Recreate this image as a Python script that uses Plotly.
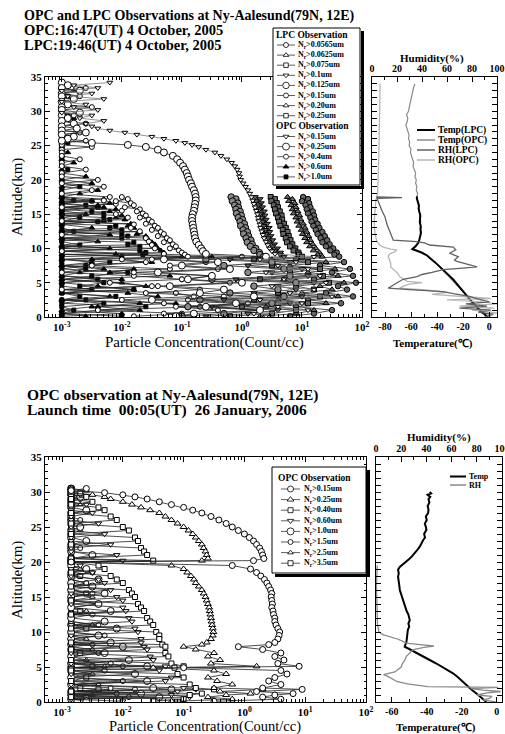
import plotly.graph_objects as go

W, H = 505, 734
FONT = "Liberation Serif"

# ---------------- TOP FIGURE (4 October 2005) ----------------
# LPC sampling altitudes (km) and log10 concentration (count/cc) per channel
lpc_alt = [17.5, 17.2, 16.9, 16.6, 16.3, 16.0, 15.7, 15.4, 15.1, 14.8,
           14.5, 14.2, 13.9, 13.6, 13.3, 13.0, 12.7, 12.4, 12.1, 11.8,
           11.5, 11.2, 10.9, 10.6, 10.3, 10.0, 9.7, 9.4, 9.1, 8.8,
           8.4, 8.0, 7.5, 7.0, 6.5, 6.0, 5.5, 5.0, 4.5, 4.0,
           3.5, 3.0, 2.5, 2.0, 1.5, 1.0, 0.5, 0.1]
lpc_n0565 = [1.02, 1.10, 1.00, 1.12, 1.06, 1.14, 1.08, 1.18, 1.10, 1.20,
             1.14, 1.22, 1.16, 1.26, 1.19, 1.29, 1.23, 1.34, 1.26, 1.38,
             1.31, 1.42, 1.34, 1.46, 1.40, 1.52, 1.47, 1.58, 1.54, 1.62,
             0.9, 1.7, 1.3, 1.8, 1.5, 1.85, 1.2, 1.9, 1.6, 1.75,
             1.4, 1.85, 1.1, 1.65, 0.9, 1.5, 1.2, 0.8]
lpc_n0625 = [0.76, 0.84, 0.78, 0.88, 0.82, 0.90, 0.84, 0.93, 0.86, 0.96,
             0.90, 0.98, 0.92, 1.02, 0.95, 1.05, 0.99, 1.08, 1.01, 1.11,
             1.05, 1.14, 1.08, 1.18, 1.13, 1.23, 1.19, 1.29, 1.26, 1.34,
             0.5, 1.4, 0.8, 1.55, 1.1, 1.6, 0.7, 1.7, 1.3, 1.5,
             1.0, 1.6, 0.6, 1.4, 0.4, 1.2, 0.9, 0.3]
lpc_n075 = [0.48, 0.55, 0.49, 0.58, 0.53, 0.60, 0.55, 0.63, 0.57, 0.66,
            0.60, 0.67, 0.62, 0.70, 0.64, 0.73, 0.68, 0.76, 0.69, 0.78,
            0.73, 0.81, 0.75, 0.84, 0.80, 0.89, 0.86, 0.94, 0.95, 1.00,
            0.2, 1.1, 0.5, 1.3, 0.8, 1.35, 0.3, 1.45, 0.9, 1.2,
            0.6, 1.3, 0.2, 1.1, 0.0, 0.9, 0.5, -0.2]
lpc_n1 = [0.22, 0.30, 0.24, 0.32, 0.28, 0.34, 0.29, 0.37, 0.31, 0.38,
          0.33, 0.40, 0.35, 0.42, 0.36, 0.45, 0.39, 0.46, 0.40, 0.48,
          0.44, 0.51, 0.45, 0.54, 0.51, 0.59, 0.55, 0.64, 0.64, 0.70,
          -0.2, 0.8, 0.1, 1.0, 0.5, 1.1, -0.1, 1.2, 0.6, 0.9,
          0.2, 1.0, -0.3, 0.8, -0.5, 0.6, 0.1, -0.6]
lpc_n125 = [-0.18, -0.10, -0.16, -0.07, -0.12, -0.06, -0.10, -0.03, -0.09, -0.01,
            -0.06, 0.01, -0.03, 0.04, -0.02, 0.06, 0.02, 0.09, 0.03, 0.11,
            0.07, 0.15, 0.09, 0.17, 0.14, 0.23, 0.20, 0.29, 0.30, 0.36,
            -0.6, 0.5, -0.3, 0.7, 0.1, 0.8, -0.5, 0.9, 0.2, 0.6,
            -0.2, 0.7, -0.7, 0.5, -0.9, 0.3, -0.3, -1.0]
lpc_n15 = [-2.0, -1.9, -2.1, -1.85, -1.8, -1.95, -1.7, -1.75, -1.65, -1.6,
           -1.7, -1.55, -1.5, -1.6, -1.45, -1.4, -1.5, -1.35, -1.3, -1.4,
           -1.25, -1.2, -1.3, -1.15, -1.1, -1.2, -1.05, -1.0, -0.95, -0.9,
           -1.5, -0.6, -1.2, -0.4, -1.8, -0.5, -1.0, -0.2, -1.4, -0.7,
           -1.6, -0.3, -0.9, 0.1, -1.1, -0.4, -1.3, -0.8]
lpc_n20 = [-3.0, -2.3, -3.0, -2.2, -2.4, -3.0, -2.1, -2.2, -3.0, -2.0,
           -2.1, -1.95, -3.0, -1.85, -1.9, -1.8, -3.0, -1.7, -1.75, -1.6,
           -3.0, -1.55, -1.5, -1.45, -3.0, -1.4, -1.35, -1.3, -3.0, -0.5,
           -2.5, -1.5, -3.0, -1.8, -2.2, -1.2, -3.0, -2.0, -1.6, -3.0,
           -1.9, -1.4, -3.0, -1.1, -2.4, -1.7, -3.0, -2.6]
lpc_n25 = [-3.0, -3.0, -2.5, -3.0, -2.6, -2.4, -3.0, -2.5, -2.3, -3.0,
           -2.3, -2.2, -2.4, -3.0, -2.1, -2.2, -2.0, -3.0, -2.0, -1.9,
           -2.0, -3.0, -1.8, -1.9, -1.7, -3.0, -1.7, -1.6, -1.65, -3.0,
           -3.0, -2.2, -2.6, -3.0, -1.9, -2.5, -3.0, -2.3, -2.7, -1.8,
           -3.0, -2.1, -2.6, -3.0, -1.6, -2.4, -3.0, -2.0]

# OPC sampling altitudes (km) and log10 concentration per channel
opc_top_alt = [34.2, 33.8, 33.4, 33.0, 32.6, 32.2, 31.8, 31.4, 31.0, 30.6,
               30.2, 29.8, 29.4, 29.0, 28.6, 28.2, 27.8,
               27.5, 27.2, 26.9, 26.6, 26.3, 26.0, 25.7, 25.4, 25.1, 24.8,
               24.4, 24.0,
               23.5, 23.0, 22.5, 22.0, 21.5, 21.0, 20.5, 20.0, 19.5, 19.0,
               18.5, 18.0, 17.5, 17.0, 16.5, 16.0, 15.5, 15.0, 14.5, 14.0,
               13.5, 13.0, 12.5, 12.0, 11.5, 11.0, 10.5, 10.0,
               9.6, 9.2, 8.8, 8.4, 8.0,
               7.5, 7.0, 6.5, 6.0, 5.5, 5.0, 4.5, 4.0, 3.5, 3.0, 2.5, 2.0, 1.5, 1.0, 0.5,
               0.1]
opc_t015 = [-2.2, -2.8, -2.4, -3.0, -2.5, -2.9, -2.3, -3.0, -2.6, -2.8,
            -2.4, -3.0, -2.5, -2.7, -2.3, -2.6, -2.5,
            -2.4, -2.2, -1.95, -1.75, -1.5, -1.3, -1.1, -0.95, -0.83, -0.72,
            -0.6, -0.45,
            -0.35, -0.25, -0.17, -0.12, -0.08, -0.05, -0.04, -0.02, 0.02, 0.06,
            0.10, 0.13, 0.16, 0.18, 0.20, 0.22, 0.24, 0.26, 0.27, 0.28,
            0.30, 0.31, 0.33, 0.35, 0.37, 0.40, 0.43, 0.46,
            0.50, 0.55, 1.2, 0.3, 0.9,
            0.6, 1.1, 0.4, 1.3, 0.7, 1.4, 0.5, 1.2, 0.8, 1.5, 0.3, 1.0, 0.6, 1.1, 0.2,
            0.4]
opc_t025 = [-3.0, -2.9, -3.0, -2.7, -3.0, -3.0, -2.8, -3.0, -2.9, -3.0,
            -3.0, -2.7, -3.0, -2.9, -3.0, -2.8, -3.0,
            -2.75, -3.0, -2.6, -3.0, -2.8, -2.9, -3.0, -2.5, -1.9, -1.6,
            -1.4, -1.3,
            -1.15, -1.08, -1.03, -0.98, -0.95, -0.92, -0.90, -0.88, -0.85, -0.83,
            -0.80, -0.78, -0.77, -0.77, -0.78, -0.79, -0.80, -0.82, -0.83, -0.83,
            -0.82, -0.81, -0.80, -0.79, -0.78, -0.76, -0.72, -0.68,
            -0.65, -0.60, 0.4, -1.3, -0.4,
            -1.0, -0.2, -1.4, -0.5, -0.9, 0.0, -1.2, -0.3, -0.7, 0.2, -1.5, -0.1, -0.6, 0.3, -0.8,
            -1.1]
opc_t04 = [-3.0, -3.0, -2.6, -3.0, -3.0, -2.7, -3.0, -3.0, -3.0, -2.5,
           -3.0, -3.0, -2.8, -3.0, -3.0, -2.6, -3.0,
           -3.0, -3.0, -2.7, -3.0, -3.0, -3.0, -2.6, -3.0, -3.0, -2.5,
           -3.0, -3.0,
           -3.0, -2.7, -3.0, -3.0, -2.6, -3.0, -3.0, -2.4, -3.0, -2.3,
           -2.5, -3.0, -2.2, -2.3, -2.1, -3.0, -2.0, -2.1, -1.9, -3.0,
           -1.8, -1.85, -1.7, -3.0, -1.6, -1.55, -1.5, -1.45,
           -3.0, -1.3, 0.0, -2.0, -1.6,
           -2.5, -1.2, -3.0, -1.8, -1.0, -2.2, -1.5, -3.0, -1.1, -0.8, -2.0, -1.3, -0.7, -2.4, -1.0,
           -1.8]
opc_t06 = [-3.0, -3.0, -3.0, -2.8, -3.0, -3.0, -3.0, -3.0, -2.9, -3.0,
           -3.0, -3.0, -3.0, -2.8, -3.0, -3.0, -3.0,
           -3.0, -3.0, -3.0, -3.0, -2.8, -3.0, -3.0, -3.0, -3.0, -3.0,
           -3.0, -2.9,
           -3.0, -3.0, -2.8, -3.0, -3.0, -3.0, -2.6, -3.0, -2.5, -3.0,
           -2.4, -2.7, -3.0, -2.5, -3.0, -2.3, -3.0, -2.6, -3.0, -2.3,
           -3.0, -2.5, -3.0, -2.2, -3.0, -2.4, -3.0, -2.2,
           -3.0, -2.1, -1.0, -3.0, -2.5,
           -3.0, -2.3, -2.7, -3.0, -2.0, -3.0, -2.4, -1.8, -3.0, -2.2, -3.0, -1.7, -2.5, -3.0, -2.0,
           -3.0]
opc_t10 = [-3.0, -3.0, -3.0, -3.0, -3.0, -2.9, -3.0, -3.0, -3.0, -3.0,
           -3.0, -3.0, -2.9, -3.0, -3.0, -3.0, -3.0,
           -3.0, -3.0, -3.0, -3.0, -3.0, -3.0, -3.0, -2.9, -3.0, -3.0,
           -3.0, -3.0,
           -3.0, -3.0, -3.0, -3.0, -2.9, -3.0, -3.0, -3.0, -3.0, -2.7,
           -3.0, -3.0, -3.0, -2.8, -3.0, -3.0, -3.0, -3.0, -2.7, -3.0,
           -3.0, -3.0, -2.8, -3.0, -3.0, -3.0, -2.7, -3.0,
           -3.0, -3.0, -2.0, -3.0, -3.0,
           -3.0, -2.6, -3.0, -3.0, -2.4, -3.0, -3.0, -2.5, -3.0, -2.7, -3.0, -2.3, -3.0, -2.8, -3.0,
           -3.0]

# Temperature (deg C) / humidity (%) profiles, top figure
t_lpc_alt = [0.0, 0.4, 0.8, 1.2, 1.6, 2.0, 2.5, 3.0, 3.5, 4.0, 4.5, 5.0, 5.5, 6.0, 6.5, 7.0,
             7.5, 8.0, 8.5, 9.0, 9.4, 9.9, 10.3, 10.8, 11.3, 11.8, 12.3, 12.8, 13.3, 13.8,
             14.3, 14.8, 15.3, 15.8, 16.3, 16.8, 17.3, 17.6]
t_lpc = [-1.5, -3.5, -6.5, -8.5, -10.8, -12.5, -14.6, -16.8, -19.0, -21.0, -23.0, -25.3,
         -27.8, -30.5, -33.2, -35.8, -38.8, -41.7, -44.9, -47.9, -52.0, -59.0, -56.5, -54.5,
         -53.6, -53.0, -52.4, -52.8, -52.6, -53.3, -53.0, -52.9, -53.6, -54.2, -54.0, -55.0,
         -55.6, -55.4]
t_opc_alt = [0.0, 0.5, 1.0, 1.5, 2.0, 2.5, 3.0, 3.5, 4.0, 4.5, 5.0, 5.5, 6.0, 6.5, 7.0, 7.5,
             8.0, 8.5, 9.0, 9.5, 10.0, 10.5, 11.0, 11.5, 12.0, 12.5, 13.0, 13.5, 14.0, 14.5,
             15.0, 15.5, 16.0, 16.5, 17.0, 17.5, 18.0, 18.5, 19.0, 19.5, 20.0, 20.5, 21.0,
             21.5, 22.0, 22.5, 23.0, 23.5, 24.0, 24.5, 25.0, 25.5, 26.0, 26.5, 27.0, 27.5,
             28.0, 28.5, 29.0, 29.5, 30.0, 30.5, 31.0, 31.5, 32.0, 32.5, 33.0, 33.5, 34.0]
t_opc = [-0.5, -3.5, -7.0, -9.5, -12.0, -14.0, -16.5, -19.0, -21.5, -23.5,
         -26.0, -28.5, -31.0, -33.5, -36.0, -39.0, -42.0, -45.0, -48.0, -53.0,
         -58.5, -56.0, -54.0, -53.5, -52.5, -53.0, -52.0, -53.0, -52.5, -53.5,
         -53.0, -54.0, -53.5, -54.5, -55.0, -55.5, -55.0, -56.0, -55.5, -56.5,
         -56.0, -57.0, -56.5, -57.5, -58.5, -58.0, -59.0, -59.5, -60.5, -60.0,
         -61.5, -61.0, -62.0, -61.5, -62.5, -63.0, -64.0, -63.0, -62.5, -63.5,
         -62.0, -61.5, -61.0, -60.5, -60.0, -59.5, -59.0, -58.0, -57.0]
rh_lpc_alt = [17.5, 17.4, 17.3, 16.8, 16.1, 15.5, 14.6, 13.5, 12.4, 11.6, 11.2, 11.0, 10.8,
              10.5, 10.2, 9.8, 9.3, 8.8, 8.3, 8.1, 7.6, 7.3, 7.1, 6.9, 6.5, 6.2, 5.9, 5.5,
              5.0, 4.6, 4.2, 4.0, 3.7, 3.4, 3.0, 2.6, 2.2, 1.9, 1.6, 1.3, 1.0, 0.7, 0.4, 0.0]
rh_lpc = [3.5, 24, 4.0, 5.0, 6.4, 8.0, 10.4, 12.0, 14.4, 16.0, 17.0, 35.7, 42, 46, 65, 67,
          62, 69, 66, 68, 78, 84, 70, 57, 48, 40, 36, 25, 20, 16, 13, 30, 57, 65, 78, 85,
          94, 75, 92, 70, 95, 85, 97, 90]
rh_opc_alt = [34.0, 32.0, 30.0, 28.0, 26.0, 24.0, 22.0, 20.0, 18.0, 17.0, 16.0, 15.0, 14.0,
              13.0, 12.0, 11.0, 10.5, 10.2, 9.9, 9.8, 9.5, 9.2, 8.8, 8.3, 7.8, 7.3, 6.8,
              6.3, 5.9, 5.5, 5.2, 5.0, 4.8, 4.5, 4.2, 3.9, 3.6, 3.3, 3.0, 2.7, 2.5, 2.2,
              1.9, 1.6, 1.3, 1.0, 0.6, 0.3, 0.0]
rh_opc = [6.5, 6.4, 6.2, 6.0, 5.8, 5.5, 5.2, 4.8, 4.5, 3.0, 2.5, 2.0, 1.8, 2.0, 2.5, 4.0,
          6.0, 9.0, 15, 20, 18, 14, 13, 14, 15, 15, 18, 21, 22, 26, 28, 40, 30, 25, 22,
          45, 60, 48, 75, 95, 60, 88, 100, 70, 98, 80, 100, 92, 95]

# ---------------- BOTTOM FIGURE (26 January 2006) ----------------
opc_bot_alt = [30.5, 30.2, 29.9, 29.6, 29.3, 29.0,
               28.6, 28.2, 27.8, 27.4, 27.0,
               26.5, 26.0, 25.5, 25.0, 24.5, 24.0, 23.5, 23.0, 22.5, 22.0, 21.5, 21.0, 20.5,
               20.2, 20.0,
               19.5, 19.0, 18.5, 18.0, 17.5, 17.0, 16.5, 16.0, 15.5, 15.0, 14.5, 14.0, 13.5,
               13.0, 12.5, 12.0, 11.5, 11.0, 10.5, 10.0, 9.5, 9.0, 8.5,
               8.2, 7.9,
               7.5, 7.0, 6.5, 6.0, 5.5,
               5.1, 4.9,
               4.5, 4.0, 3.5, 3.0, 2.5, 2.0,
               1.8, 1.5, 1.2, 1.0, 0.7, 0.4, 0.1]
opc_b015 = [-2.6, -2.85, -2.3, -2.0, -1.8, -1.6,
            -1.4, -1.2, -1.0, -0.85, -0.7,
            -0.55, -0.42, -0.3, -0.2, -0.1, 0.0, 0.08, 0.15, 0.2, 0.25, 0.28, 0.3, 0.32,
            0.15, -2.85,
            -0.2, 0.1, 0.2, 0.27, 0.33, 0.37, 0.4, 0.43, 0.45, 0.44, 0.45, 0.46, 0.45,
            0.47, 0.48, 0.5, 0.5, 0.52, 0.55, 0.58, 0.57, 0.55, 0.5,
            0.4, -0.1,
            0.3, 0.6, 0.5, 0.65, 0.55,
            0.9, -1.0,
            0.6, 0.7, 0.5, 0.4, 0.6, 0.3,
            0.95, 0.2, 0.8, 0.5, 0.3, 0.6, -0.5]
opc_b025 = [-2.85, -2.6, -2.85, -2.5, -2.3, -2.2,
            -2.0, -1.85, -1.7, -1.55, -1.4,
            -1.3, -1.2, -1.1, -1.0, -0.92, -0.85, -0.8, -0.75, -0.7, -0.67, -0.64, -0.62, -0.6,
            -0.7, -2.85,
            -1.2, -1.0, -0.94, -0.88, -0.83, -0.8, -0.75, -0.7, -0.67, -0.64, -0.62, -0.6, -0.58,
            -0.57, -0.56, -0.55, -0.54, -0.53, -0.52, -0.51, -0.52, -0.55, -0.62,
            -0.7, -1.0,
            -0.8, -0.5, -0.6, -0.4, -0.55,
            0.2, -1.5,
            -0.5, -0.3, -0.6, -0.45, -0.2, -0.5,
            0.3, -0.4, 0.1, -0.3, -0.6, -0.2, -1.2]
opc_b040 = [-2.85, -2.85, -2.7, -2.85, -2.6, -2.85,
            -2.5, -2.85, -2.4, -2.3, -2.85,
            -2.2, -2.1, -2.85, -2.0, -1.9, -2.85, -1.8, -1.75, -2.85, -1.7, -1.65, -1.6, -2.85,
            -1.5, -2.85,
            -2.4, -2.3, -2.85, -2.2, -2.1, -2.0, -2.85, -1.9, -1.85, -1.8, -2.85, -1.75, -1.7,
            -1.65, -2.85, -1.6, -1.55, -1.5, -2.85, -1.45, -1.4, -1.4, -2.85,
            -1.35, -1.3,
            -2.85, -1.3, -1.25, -2.85, -1.2,
            -1.0, -1.15,
            -2.85, -1.1, -1.0, -2.85, -0.9, -0.8,
            -0.5, -2.85, -0.7, -0.9, -2.85, -1.0, -1.5]
opc_b060 = [-2.85, -2.85, -2.85, -2.7, -2.85, -2.85,
            -2.85, -2.6, -2.85, -2.85, -2.5,
            -2.85, -2.85, -2.4, -2.85, -2.85, -2.3, -2.85, -2.85, -2.2, -2.85, -2.85, -2.1, -2.85,
            -2.0, -2.85,
            -2.7, -2.85, -2.5, -2.85, -2.4, -2.3, -2.85, -2.2, -2.85, -2.1, -2.0, -2.85, -2.0,
            -1.95, -2.85, -1.9, -1.85, -2.85, -1.8, -1.75, -2.85, -1.7, -1.7,
            -2.85, -1.65,
            -1.6, -2.85, -1.55, -1.5, -2.85,
            -1.3, -2.85,
            -1.4, -2.85, -1.2, -1.3, -2.85, -1.0,
            -0.8, -1.1, -2.85, -1.2, -0.9, -2.85, -2.0]
opc_b10 = [-2.85, -2.85, -2.85, -2.85, -2.7, -2.85,
           -2.85, -2.85, -2.85, -2.6, -2.85,
           -2.85, -2.85, -2.85, -2.7, -2.85, -2.85, -2.85, -2.6, -2.85, -2.85, -2.85, -2.5, -2.85,
           -2.85, -2.85,
           -2.85, -2.6, -2.85, -2.85, -2.4, -2.85, -2.5, -2.85, -2.3, -2.85, -2.85, -2.4, -2.85,
           -2.2, -2.85, -2.85, -2.3, -2.85, -2.1, -2.85, -2.4, -2.85, -2.2,
           -2.85, -2.0,
           -2.85, -2.3, -2.85, -1.9, -2.85,
           -1.6, -2.85,
           -2.85, -1.8, -2.85, -1.6, -2.85, -1.5,
           -1.2, -2.85, -1.7, -2.85, -1.4, -2.85, -2.6]
opc_b15 = [-2.85, -2.85, -2.85, -2.85, -2.85, -2.7,
           -2.85, -2.85, -2.85, -2.85, -2.85,
           -2.85, -2.7, -2.85, -2.85, -2.85, -2.85, -2.85, -2.85, -2.85, -2.7, -2.85, -2.85, -2.85,
           -2.85, -2.85,
           -2.85, -2.85, -2.5, -2.85, -2.85, -2.6, -2.85, -2.85, -2.5, -2.85, -2.85, -2.4, -2.85,
           -2.85, -2.5, -2.85, -2.85, -2.4, -2.85, -2.85, -2.3, -2.85, -2.85,
           -2.5, -2.85,
           -2.85, -2.4, -2.85, -2.85, -2.2,
           -2.0, -2.85,
           -2.3, -2.85, -2.85, -2.0, -2.85, -2.2,
           -1.8, -2.85, -2.1, -2.85, -1.9, -2.85, -2.85]
opc_b25 = [-2.85, -2.85, -2.85, -2.85, -2.85, -2.85,
           -2.85, -2.7, -2.85, -2.85, -2.85,
           -2.85, -2.85, -2.85, -2.85, -2.7, -2.85, -2.85, -2.85, -2.85, -2.85, -2.85, -2.85, -2.85,
           -2.85, -2.85,
           -2.85, -2.7, -2.85, -2.85, -2.85, -2.6, -2.85, -2.85, -2.85, -2.5, -2.85, -2.85, -2.85,
           -2.6, -2.85, -2.85, -2.85, -2.5, -2.85, -2.85, -2.85, -2.6, -2.85,
           -2.85, -2.85,
           -2.5, -2.85, -2.85, -2.6, -2.85,
           -2.3, -2.85,
           -2.85, -2.5, -2.85, -2.85, -2.4, -2.85,
           -2.2, -2.85, -2.85, -2.5, -2.85, -2.85, -2.85]
opc_b35 = [-2.85, -2.85, -2.85, -2.85, -2.85, -2.85,
           -2.85, -2.85, -2.85, -2.85, -2.85,
           -2.85, -2.85, -2.85, -2.85, -2.85, -2.85, -2.85, -2.85, -2.85, -2.85, -2.85, -2.85, -2.85,
           -2.85, -2.85,
           -2.85, -2.85, -2.85, -2.7, -2.85, -2.85, -2.85, -2.85, -2.6, -2.85, -2.85, -2.85, -2.85,
           -2.7, -2.85, -2.85, -2.85, -2.85, -2.6, -2.85, -2.85, -2.85, -2.85,
           -2.85, -2.85,
           -2.85, -2.7, -2.85, -2.85, -2.85,
           -2.5, -2.85,
           -2.85, -2.85, -2.6, -2.85, -2.85, -2.7,
           -2.4, -2.85, -2.85, -2.85, -2.6, -2.85, -2.85]

tb_alt = [30.0, 29.8, 29.6, 29.3, 29.0, 28.5, 28.0, 27.5, 27.0, 26.5, 26.0, 25.5, 25.0, 24.6,
          24.0, 23.5, 23.1, 22.6, 22.2, 21.7, 21.2, 20.8, 20.5, 20.0, 19.6, 19.3, 18.9, 18.4,
          17.9, 17.4, 17.0, 16.5, 16.0, 15.5, 15.0, 14.5, 14.0, 13.6, 13.0, 12.5, 12.0, 11.7,
          11.2, 10.8, 10.3, 9.8, 9.3, 8.6, 8.2, 7.9, 7.5, 7.0, 6.5, 6.0, 5.5, 5.0, 4.5, 4.1,
          3.6, 3.0, 2.4, 1.8, 1.2, 0.6, 0.0]
tb = [-38.3, -37.5, -39.5, -38.0, -39.0, -38.5, -39.5, -39.0, -39.2, -40.5,
      -40.0, -41.1, -40.5, -40.2, -41.5, -41.0, -42.1, -43.0, -44.0, -45.5,
      -47.0, -48.5, -49.7, -52.0, -54.0, -55.4, -56.4, -56.0, -56.4, -56.0,
      -55.8, -55.6, -55.4, -54.8, -54.0, -53.5, -53.0, -52.6, -51.5, -50.5,
      -50.0, -49.7, -50.5, -50.0, -50.8, -51.0, -51.5, -51.6, -52.2, -52.6,
      -49.5, -45.5, -42.0, -38.3, -34.5, -31.0, -27.5, -25.0, -22.5, -20.0,
      -17.3, -14.5, -11.6, -8.5, -5.9]
rhb_alt = [19.5, 19.0, 18.5, 18.0, 17.0, 16.0, 15.0, 14.0, 13.0, 12.0, 11.0, 10.5, 10.0, 9.6,
           9.3, 9.0, 8.7, 8.4, 8.2, 8.0, 7.8, 7.5, 7.2, 6.8, 6.5, 6.0, 5.5, 5.0, 4.6, 4.3,
           4.1, 3.9, 3.7, 3.4, 3.1, 2.9, 2.6, 2.3, 2.2, 2.1, 1.9, 1.7, 1.5, 1.3, 1.0, 0.8,
           0.5, 0.3, 0.0]
rhb = [1.0, 0.8, 0.5, 0.5, 0.4, 0.4, 0.5, 0.5, 0.6, 0.8, 1.2, 1.8, 2.3, 6.0, 12.7, 17, 21,
       24, 35, 46, 38, 30, 28, 26, 24, 23, 21, 20, 17, 15, 10, 6, 9, 12, 14, 17, 25, 35, 41,
       97, 75, 85, 99, 88, 80, 92, 90, 85, 95]

# Labels / ticks
lpc_labels = ["0.0565", "0.0625", "0.075", "0.1", "0.125", "0.15", "0.20", "0.25"]
opc_top_labels = ["0.15", "0.25", "0.4", "0.6", "1.0"]
opc_bot_labels = ["0.15", "0.25", "0.40", "0.60", "1.0", "1.5", "2.5", "3.5"]
conc_ticks = [1e-3, 1e-2, 1e-1, 1e0, 1e1, 1e2]
conc_ticktext = ["10<sup>-3</sup>", "10<sup>-2</sup>", "10<sup>-1</sup>",
                 "10<sup>0</sup>", "10<sup>1</sup>", "10<sup>2</sup>"]

top_lpc = [lpc_n0565, lpc_n0625, lpc_n075, lpc_n1, lpc_n125, lpc_n15, lpc_n20, lpc_n25]
top_opc = [opc_t015, opc_t025, opc_t04, opc_t06, opc_t10]
bot_opc = [opc_b015, opc_b025, opc_b040, opc_b060, opc_b10, opc_b15, opc_b25, opc_b35]
for s in top_lpc:
    assert len(s) == len(lpc_alt)
for s in top_opc:
    assert len(s) == len(opc_top_alt)
for s in bot_opc:
    assert len(s) == len(opc_bot_alt)
assert len(t_lpc) == len(t_lpc_alt) and len(t_opc) == len(t_opc_alt)
assert len(rh_lpc) == len(rh_lpc_alt) and len(rh_opc) == len(rh_opc_alt)
assert len(tb) == len(tb_alt) and len(rhb) == len(rhb_alt)

# styles (symbol, fill, size)
lpc_style = [("circle", "#666", 5.5), ("triangle-up", "#666", 5.5), ("square", "#666", 5),
             ("triangle-down", "#666", 5.5), ("circle", "#888", 6.5), ("circle", "white", 5),
             ("triangle-up", "black", 5), ("square", "black", 4)]
opc_top_style = [("triangle-down", "white", 5), ("circle", "white", 7), ("circle", "white", 5),
                 ("triangle-up", "black", 5), ("square", "black", 4)]
opc_bot_style = [("circle", "white", 6), ("triangle-up", "white", 6), ("square", "white", 5),
                 ("triangle-down", "white", 5.5), ("circle", "white", 7), ("circle", "white", 5),
                 ("triangle-up", "white", 5), ("square", "white", 5)]
legend_lpc_style = [("circle", "white", 5), ("triangle-up", "white", 5), ("square", "white", 4.5),
                    ("triangle-down", "white", 5), ("circle", "white", 6.5), ("circle", "white", 5),
                    ("triangle-up", "white", 5), ("square", "white", 4.5)]


def px(x):
    return x / W


def py(y):
    return 1 - y / H


fig = go.Figure()


def profile(logs, alt, style, xa, ya, lcolor="#222"):
    sym, fill, size = style
    return go.Scatter(x=[10 ** v for v in logs], y=alt, mode="lines+markers",
                      xaxis=xa, yaxis=ya, line=dict(color=lcolor, width=0.8),
                      marker=dict(symbol=sym, size=size, color=fill,
                                  line=dict(color="black", width=1)),
                      hoverinfo="skip", showlegend=False)


# top main chart: draw floor-dominated channels first
for i in [4, 3]:
    fig.add_trace(profile(top_opc[i], opc_top_alt, opc_top_style[i], "x", "y"))
for i in [7, 6]:
    fig.add_trace(profile(top_lpc[i], lpc_alt, lpc_style[i], "x", "y"))
fig.add_trace(profile(top_opc[2], opc_top_alt, opc_top_style[2], "x", "y"))
for i in [5, 0, 1, 2, 3, 4]:
    fig.add_trace(profile(top_lpc[i], lpc_alt, lpc_style[i], "x", "y"))
fig.add_trace(profile(top_opc[1], opc_top_alt, opc_top_style[1], "x", "y"))
fig.add_trace(profile(top_opc[0], opc_top_alt, opc_top_style[0], "x", "y", lcolor="#777"))

# top right: temperature / humidity
fig.add_trace(go.Scatter(x=rh_opc, y=rh_opc_alt, xaxis="x3", yaxis="y2", mode="lines",
                         line=dict(color="#b5b5b5", width=1.3), hoverinfo="skip", showlegend=False))
fig.add_trace(go.Scatter(x=rh_lpc, y=rh_lpc_alt, xaxis="x3", yaxis="y2", mode="lines",
                         line=dict(color="#606060", width=1.3), hoverinfo="skip", showlegend=False))
fig.add_trace(go.Scatter(x=t_opc, y=t_opc_alt, xaxis="x2", yaxis="y2", mode="lines",
                         line=dict(color="#8a8a8a", width=1.2), hoverinfo="skip", showlegend=False))
fig.add_trace(go.Scatter(x=t_lpc, y=t_lpc_alt, xaxis="x2", yaxis="y2", mode="lines",
                         line=dict(color="black", width=2), hoverinfo="skip", showlegend=False))

# bottom main chart
for i in [7, 6, 5, 4, 3, 2, 1, 0]:
    fig.add_trace(profile(bot_opc[i], opc_bot_alt, opc_bot_style[i], "x4", "y4"))

# bottom right
fig.add_trace(go.Scatter(x=rhb, y=rhb_alt, xaxis="x6", yaxis="y5", mode="lines",
                         line=dict(color="#8a8a8a", width=1.3), hoverinfo="skip", showlegend=False))
fig.add_trace(go.Scatter(x=tb, y=tb_alt, xaxis="x5", yaxis="y5", mode="lines",
                         line=dict(color="black", width=2), hoverinfo="skip", showlegend=False))


# ---------- legends (drawn on a pixel-coordinate helper axis) ----------
def box(x0, y0, x1, y1):
    fig.add_trace(go.Scatter(x=[x1 + 2.5, x1 + 2.5, x0 + 3], y=[y0 + 3, y1 + 2.5, y1 + 2.5],
                             mode="lines", line=dict(color="black", width=3),
                             xaxis="x7", yaxis="y7", hoverinfo="skip", showlegend=False))
    fig.add_trace(go.Scatter(x=[x0, x1, x1, x0, x0], y=[y0, y0, y1, y1, y0], mode="lines",
                             fill="toself", fillcolor="white", line=dict(color="black", width=1),
                             xaxis="x7", yaxis="y7", hoverinfo="skip", showlegend=False))


annotations = []


def text(x, y, s, size, xanchor="left", angle=0, color="black"):
    annotations.append(dict(x=x, y=y, xref="x7", yref="y7", text=s, showarrow=False,
                            xanchor=xanchor, yanchor="middle", textangle=angle,
                            font=dict(family=FONT, size=size, color=color)))


def key(x0, x1, y, style, lcolor="#333"):
    sym, fill, size = style
    fig.add_trace(go.Scatter(x=[x0, (x0 + x1) / 2, x1], y=[y, y, y], mode="lines+markers",
                             line=dict(color=lcolor, width=0.8),
                             marker=dict(symbol=sym, size=size, color=fill, opacity=[0, 1, 0],
                                         line=dict(color="black", width=0.8)),
                             xaxis="x7", yaxis="y7", hoverinfo="skip", showlegend=False))


# top legend
box(273, 28, 360, 185)
text(274, 35, "<b>LPC Observation</b>", 9.5)
for i, lab in enumerate(lpc_labels):
    yy = 45 + 10.1 * i
    key(277, 295, yy, legend_lpc_style[i])
    text(296, yy, "<b>N<sub>r</sub>>" + lab + "um</b>", 8)
text(274, 126, "<b>OPC Observation</b>", 9.5)
for j, lab in enumerate(opc_top_labels):
    yy = 136.5 + 10.1 * j
    key(277, 295, yy, opc_top_style[j])
    text(296, yy, "<b>N<sub>r</sub>>" + lab + "um</b>", 8)

# bottom legend
box(272, 467, 366, 573)
text(276, 478, "<b>OPC Observation</b>", 9.5)
for i, lab in enumerate(opc_bot_labels):
    yy = 489 + 10.6 * i
    key(281, 300, yy, opc_bot_style[i])
    text(302, yy, "<b>N<sub>r</sub>>" + lab + "um</b>", 8)

# temperature / humidity legends
tlegend = [("Temp(LPC)", "black", 2), ("Temp(OPC)", "#8a8a8a", 1.5),
           ("RH(LPC)", "#606060", 1.5), ("RH(OPC)", "#b5b5b5", 1.5)]
for i, (lab, col, wd) in enumerate(tlegend):
    yy = 130 + 10 * i
    fig.add_trace(go.Scatter(x=[417, 435], y=[yy, yy], mode="lines", line=dict(color=col, width=wd),
                             xaxis="x7", yaxis="y7", hoverinfo="skip", showlegend=False))
    text(436, yy, "<b>" + lab + "</b>", 9.5)
for i, (lab, col, wd) in enumerate([("Temp", "black", 2), ("RH", "#8a8a8a", 1.5)]):
    yy = 476.5 + 8.5 * i
    fig.add_trace(go.Scatter(x=[450, 466], y=[yy, yy], mode="lines", line=dict(color=col, width=wd),
                             xaxis="x7", yaxis="y7", hoverinfo="skip", showlegend=False))
    text(467, yy, "<b>" + lab + "</b>", 8)

# titles and axis labels
text(22, 16, "<b>OPC and LPC Observations at Ny-Aalesund(79N, 12E)</b>", 14)
text(22, 30.5, "<b>OPC:16:47(UT) 4 October, 2005</b>", 14.5)
text(22, 45, "<b>LPC:19:46(UT) 4 October, 2005</b>", 14.5)
text(25, 394.5, "<b>OPC observation at Ny-Aalesund(79N, 12E)</b>", 15.5)
text(25, 409.5, "<b>Launch time\u00a0 00:05(UT)\u00a0 26 January, 2006</b>", 15.5)
text(17, 197, "Altitude(km)", 15, xanchor="center", angle=-90)
text(17, 580, "Altitude(km)", 15, xanchor="center", angle=-90)
text(204, 342, "Particle Concentration(Count/cc)", 15, xanchor="center")
text(205, 726, "Particle Concentration(Count/cc)", 14.5, xanchor="center")
text(432, 58, "<b>Humidity(%)</b>", 11, xanchor="center")
text(439, 437, "<b>Humidity(%)</b>", 11, xanchor="center")
text(433, 343, "<b>Temperature(\u2103)</b>", 11, xanchor="center")
text(436, 727, "<b>Temperature(\u2103)</b>", 11, xanchor="center")

# ---------- axes ----------
tickfont_main = dict(family=FONT, size=11, color="black", weight="bold")
tickfont_small = dict(family=FONT, size=10, color="black", weight="bold")
minor_log = [m * 10 ** e for e in range(-4, 2) for m in range(2, 10)]

common = dict(showline=True, linecolor="black", linewidth=1, ticks="inside", ticklen=5,
              tickcolor="black", showgrid=False, zeroline=False, automargin=False,
              ticklabeloverflow="allow")


def log_x(dom, anchor):
    return dict(domain=dom, anchor=anchor, type="log", range=[-3.28, 2.0],
                tickmode="array", tickvals=conc_ticks, ticktext=conc_ticktext,
                tickfont=tickfont_main, mirror="allticks",
                minor=dict(tickmode="array", tickvals=minor_log, ticks="inside", ticklen=3,
                           tickcolor="black", showgrid=False), **common)


def alt_y(dom, anchor, labels):
    return dict(domain=dom, anchor=anchor, range=[0, 35], tickmode="array",
                tickvals=[0, 5, 10, 15, 20, 25, 30, 35], showticklabels=labels,
                tickfont=tickfont_main, mirror="allticks",
                minor=dict(dtick=1, ticks="inside", ticklen=2.5, tickcolor="black",
                           showgrid=False), **common)


def lin_x(dom, anchor, rng, vals, side, overlay=None):
    d = dict(anchor=anchor, range=rng, tickmode="array", tickvals=vals,
             ticktext=[str(v) for v in vals], tickfont=tickfont_small, side=side,
             minor=dict(dtick=10, ticks="inside", ticklen=3, tickcolor="black", showgrid=False),
             **common)
    if overlay:
        d["overlaying"] = overlay
    else:
        d["domain"] = dom
    return d


top_y = [py(317), py(77)]
bot_y = [py(702), py(457)]
fig.update_layout(
    template="none",
    width=W, height=H, margin=dict(l=0, r=0, t=0, b=0, pad=0),
    paper_bgcolor="white", plot_bgcolor="rgba(0,0,0,0)", showlegend=False,
    xaxis=log_x([px(45), px(362)], "y"),
    yaxis=alt_y(top_y, "x", True),
    xaxis2=lin_x([px(372), px(497)], "y2", [-90, 6], [-80, -60, -40, -20, 0], "bottom"),
    xaxis3=lin_x(None, "y2", [0, 100], [0, 20, 40, 60, 80, 100], "top", overlay="x2"),
    yaxis2=alt_y(top_y, "x2", False),
    xaxis4=log_x([px(45), px(366)], "y4"),
    yaxis4=alt_y(bot_y, "x4", True),
    xaxis5=lin_x([px(376), px(502)], "y5", [-69, 3], [-60, -40, -20, 0], "bottom"),
    xaxis6=lin_x(None, "y5", [0, 100], [0, 20, 40, 60, 80, 100], "top", overlay="x5"),
    yaxis5=alt_y(bot_y, "x5", False),
    xaxis7=dict(domain=[0, 1], range=[0, W], visible=False, anchor="y7", fixedrange=True,
                automargin=False),
    yaxis7=dict(domain=[0, 1], range=[H, 0], visible=False, anchor="x7", fixedrange=True,
                automargin=False),
    annotations=annotations,
)

fig.write_html("out.html")
